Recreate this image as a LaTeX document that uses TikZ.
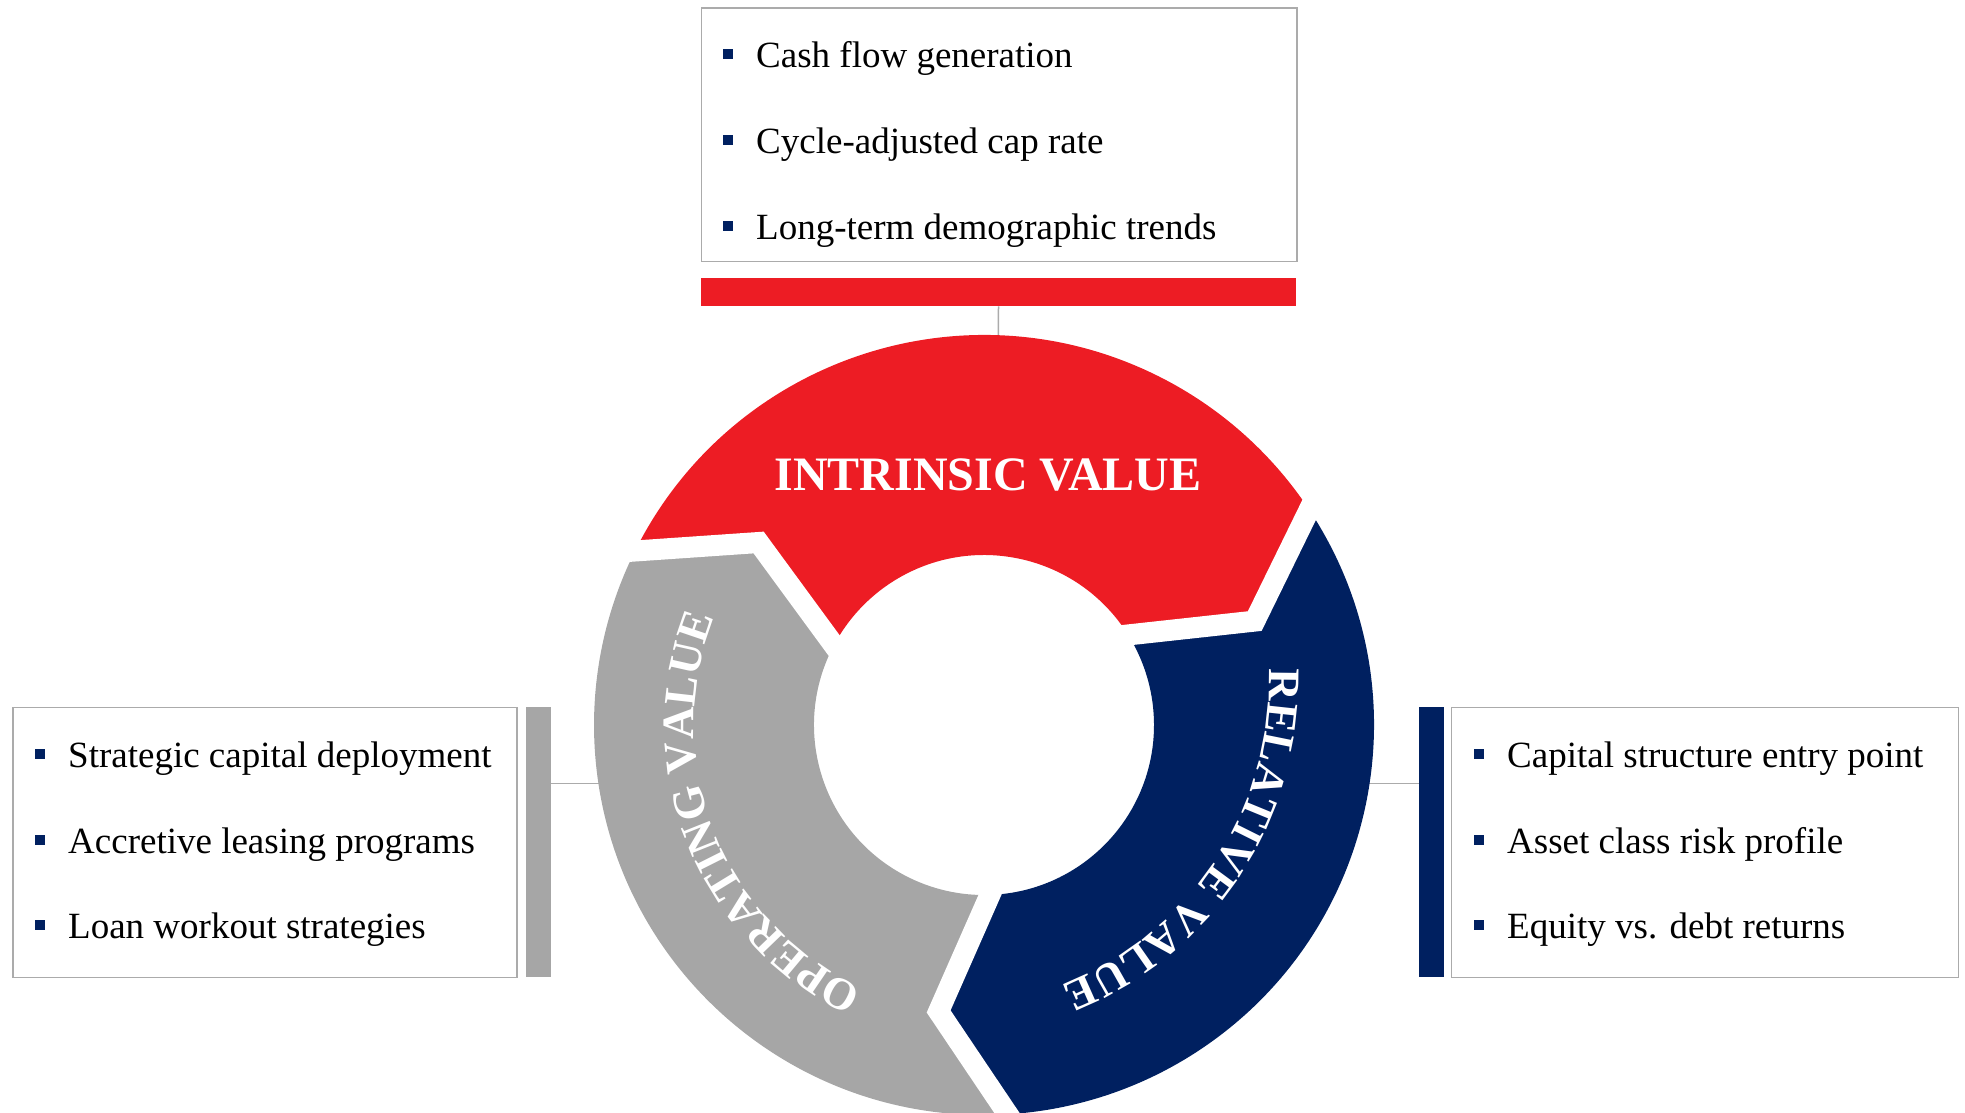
\documentclass[tikz,border=0pt]{standalone}
\usepackage{fontspec}
\setmainfont{Liberation Serif}
\usetikzlibrary{calc,decorations.text}

\definecolor{brandred}{HTML}{ED1C24}
\definecolor{brandnavy}{HTML}{002060}
\definecolor{brandgray}{HTML}{A6A6A6}
\definecolor{rulegray}{HTML}{ABABAB}

\tikzset{
  infobox/.style={draw=rulegray, line width=1.5pt, fill=white, anchor=north west, inner sep=0pt},
  sidebar/.style={anchor=north west, inner sep=0pt, draw=none},
  bulletsq/.style={fill=brandnavy, minimum size=10pt, inner sep=0pt},
  item/.style={anchor=base west, inner sep=0pt, font=\fontsize{37}{40}\selectfont},
  link/.style={draw=rulegray, line width=1.5pt},
  gapline/.style={draw=white, line width=21pt, line join=miter, line cap=butt},
}

\begin{document}
\begin{tikzpicture}[x=1pt,y=1pt]
\useasboundingbox (0,0) rectangle (1965,-1112);

% ---- text boxes and their coloured bars
\node[infobox, minimum width=595.6pt, minimum height=253.4pt] (topbox) at (700.5,-7.3) {};
\node[sidebar, fill=brandred, minimum width=595.6pt, minimum height=28.7pt] (topbar) at (700.5,-277.3) {};
\node[infobox, minimum width=504pt, minimum height=270pt] (leftbox) at (12,-706.7) {};
\node[sidebar, fill=brandgray, minimum width=24.8pt, minimum height=270pt] (leftbar) at (526,-706.7) {};
\node[sidebar, fill=brandnavy, minimum width=25.3pt, minimum height=270pt] (rightbar) at (1418.7,-706.7) {};
\node[infobox, minimum width=507pt, minimum height=270pt] (rightbox) at (1450.5,-706.7) {};

% ---- bullet lists
\node[bulletsq] (tb1) at (728,-54) {};
\node[item] (tt1) at (756,-67) {Cash flow generation};
\node[bulletsq] (tb2) at (728,-140) {};
\node[item] (tt2) at (756,-153) {Cycle-adjusted cap rate};
\node[bulletsq] (tb3) at (728,-226) {};
\node[item] (tt3) at (756,-239) {Long-term demographic trends};

\node[bulletsq] (lb1) at (39.5,-753.5) {};
\node[item] (lt1) at (68,-767) {Strategic capital deployment};
\node[bulletsq] (lb2) at (39.5,-839.5) {};
\node[item] (lt2) at (68,-853) {Accretive leasing programs};
\node[bulletsq] (lb3) at (39.5,-925) {};
\node[item] (lt3) at (68,-938.5) {Loan workout strategies};

\node[bulletsq] (rb1) at (1479.3,-753.5) {};
\node[item] (rt1) at (1507,-767) {Capital structure entry point};
\node[bulletsq] (rb2) at (1479.3,-839.5) {};
\node[item] (rt2) at (1507,-853) {Asset class risk profile};
\node[bulletsq] (rb3) at (1479.3,-925) {};
\node[item] (rt3) at (1507,-938.5) {Equity vs. debt returns};

% ---- connectors (the ring is drawn over their inner ends)
\coordinate (ringtop) at (998.3,-345);
\coordinate (ringleft) at (610,-783.5);
\coordinate (ringright) at (1360,-783.5);
\draw[link] (topbar.south) -- (ringtop);
\draw[link] (leftbar.east |- ringleft) -- (ringleft);
\draw[link] (ringright) -- (rightbar.west |- ringright);

% ---- cycle ring
\begin{scope}[shift={(984,-725)}]
  \coordinate (c) at (0,0);
  % chevron joints between the three arrows: outer end, tip, inner end
  \coordinate (o1) at (33.5:390);  \coordinate (p1) at (21:290);  \coordinate (i1) at (32:170);
  \coordinate (o2) at (153.5:390); \coordinate (p2) at (141:290); \coordinate (i2) at (152:170);
  \coordinate (o3) at (273.5:390); \coordinate (p3) at (261:290); \coordinate (i3) at (272:170);

  \fill[brandred] (o2) arc[start angle=153.5, end angle=33.5, radius=390] -- (p1) -- (i1)
      arc[start angle=32, end angle=152, radius=170] -- (p2) -- cycle;
  \fill[brandnavy] (o1) arc[start angle=33.5, end angle=-86.5, radius=390] -- (p3) -- (i3)
      arc[start angle=-88, end angle=32, radius=170] -- (p1) -- cycle;
  \fill[brandgray] (o3) arc[start angle=273.5, end angle=153.5, radius=390] -- (p2) -- (i2)
      arc[start angle=152, end angle=272, radius=170] -- (p3) -- cycle;
\end{scope}

% white gaps between the arrows
\foreach \k in {1,2,3}
  \draw[gapline] ($(p\k)!1.15!(o\k)$) -- (p\k) -- ($(p\k)!1.15!(i\k)$);

% ---- ring labels
\node[anchor=base, inner sep=0pt, text=white, font=\bfseries\fontsize{48}{50}\selectfont]
  (intrinsic) at (988,-490) {INTRINSIC VALUE};

% right label follows a flatter arch than the ring itself
\begin{scope}[shift={(942,-681)}]
  \path[decorate, decoration={text along path, text align=center,
      text={|\color{white}\bfseries\fontsize{45}{50}\selectfont|RELATIVE VALUE}}]
    (16.8:327) arc[start angle=16.8, end angle=-83.2, radius=327];
\end{scope}
\begin{scope}[shift={(984,-725)}]
  \path[decorate, decoration={text along path, text align=center,
      text={|\color{white}\bfseries\fontsize{45}{50}\selectfont|OPERATING VALUE}}]
    (261.8:290) arc[start angle=261.8, end angle=141.8, radius=290];
\end{scope}
\end{tikzpicture}
\end{document}
